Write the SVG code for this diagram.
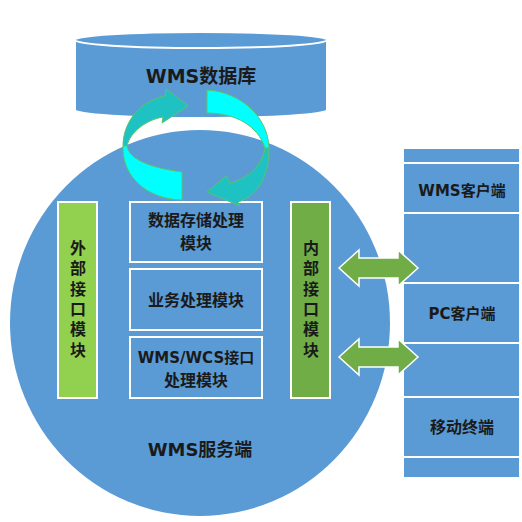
<svg xmlns="http://www.w3.org/2000/svg" width="522" height="522" viewBox="0 0 522 522">
<style>
.blue{fill:#5b9bd5;stroke:#ffffff;stroke-width:2}
.t{font-family:"DejaVu Sans","Noto Sans CJK SC",sans-serif;font-weight:bold;fill:#1a1a1a;text-anchor:middle}
.c{font-family:"Noto Sans CJK SC",sans-serif;font-weight:bold;fill:#1a1a1a;text-anchor:middle;font-size:16px}
.v{font-family:"Noto Sans CJK SC",sans-serif;font-weight:bold;fill:#1a1a1a;font-size:16px;writing-mode:vertical-rl;letter-spacing:4.3px}
.dbl{fill:#70ad47;stroke:#ffffff;stroke-width:1.5}
.cy{fill:#00ffff;stroke:#5cc36a;stroke-width:1}
.tl{fill:#1fc2c2;stroke:#5cc36a;stroke-width:1}
</style>
<rect width="522" height="522" fill="#ffffff"/>
<g id="server">
<ellipse cx="200" cy="323" rx="190" ry="193" fill="#5b9bd5"/>
<text class="t" x="200" y="456" font-size="18">WMS服务端</text>
</g>
<g id="database">
<path class="blue" d="M75,40 L75,110 A126,8 0 0 0 327,110 L327,40"/>
<ellipse class="blue" cx="201" cy="40" rx="126" ry="8"/>
<text class="t" x="201" y="83" font-size="19">WMS数据库</text>
</g>
<g id="ext">
<rect x="58" y="202" width="39" height="196" fill="#92d050" stroke="#ffffff" stroke-width="2"/>
<text class="v" x="78" y="240">外部接口模块</text>
</g>
<g id="int">
<rect x="291" y="202" width="39" height="196" fill="#70ad47" stroke="#ffffff" stroke-width="2"/>
<text class="v" x="311" y="240">内部接口模块</text>
</g>
<g id="storage">
<rect class="blue" x="130" y="202" width="132" height="60"/>
<text class="c" x="196" y="226" font-size="17">数据存储处理</text>
<text class="c" x="196" y="249" font-size="17">模块</text>
</g>
<g id="business">
<rect class="blue" x="130" y="269" width="132" height="61"/>
<text class="c" x="196" y="306" font-size="17">业务处理模块</text>
</g>
<g id="wcs">
<rect class="blue" x="130" y="337" width="132" height="61"/>
<text class="t" x="196" y="363" font-size="15">WMS/WCS接口</text>
<text class="c" x="196" y="386" font-size="17">处理模块</text>
</g>
<g id="clients">
<rect class="blue" x="403" y="148" width="117" height="15"/>
<rect class="blue" x="403" y="163" width="117" height="50"/>
<rect class="blue" x="403" y="213" width="117" height="70"/>
<rect class="blue" x="403" y="283" width="117" height="60"/>
<rect class="blue" x="403" y="343" width="117" height="54"/>
<rect class="blue" x="403" y="397" width="117" height="60"/>
<rect class="blue" x="403" y="457" width="117" height="21"/>
<text class="t" x="462" y="196" font-size="15">WMS客户端</text>
<text class="t" x="462" y="319" font-size="15">PC客户端</text>
<text class="c" x="462" y="433" font-size="16">移动终端</text>
</g>
<g id="connectors">
<path class="dbl" d="M339,268 L359,250 L359,258 L398,258 L398,250 L418,268 L398,286 L398,278 L359,278 L359,286 Z"/>
<path class="dbl" d="M339,357 L359,339 L359,347 L398,347 L398,339 L418,357 L398,375 L398,367 L359,367 L359,375 Z"/>
<path class="tl" d="M165,96 L166,89 L188,106 L162,123 L163,117 C146,120 130,132 127,146 L123,146 C123,122 140,101 165,96 Z"/>
<path class="cy" d="M123,146 C122,176 146,199 182,200 L182,172 C152,168 129,160 127,146 Z"/>
<path class="cy" d="M207,90 C240,92 268,116 269,148 L265,148 C258,126 236,113 207,113 Z"/>
<path class="tl" d="M269,148 C269,178 257,196 238,202 L240,206 L207,192 L226,176 L230,183 C250,178 262,165 265,148 Z"/>
</g>
</svg>
